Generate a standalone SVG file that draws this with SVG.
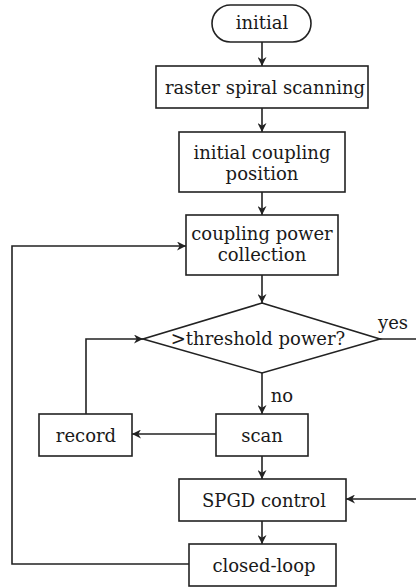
<svg xmlns="http://www.w3.org/2000/svg" width="416" height="587" viewBox="0 0 416 587">
<style>
.box{fill:#fff;stroke:#222;stroke-width:1.6}
.t{font-family:"DejaVu Serif","Liberation Serif",serif;font-size:18px;fill:#1a1a1a;text-anchor:middle}
.c{fill:none;stroke:#222;stroke-width:1.6}
</style>
<defs>
<marker id="ah" viewBox="0 0 10 10" refX="10" refY="5" markerWidth="9" markerHeight="9" markerUnits="userSpaceOnUse" orient="auto">
<path d="M0,0 L10,5 L0,10 L3,5 z" fill="#222"/>
</marker>
</defs>
<rect width="416" height="587" fill="#fff"/>
<g id="connectors">
<line class="c" x1="262" y1="42" x2="262" y2="66" marker-end="url(#ah)"/>
<line class="c" x1="262" y1="108" x2="262" y2="132" marker-end="url(#ah)"/>
<line class="c" x1="262" y1="192" x2="262" y2="215" marker-end="url(#ah)"/>
<line class="c" x1="262" y1="275" x2="262" y2="303" marker-end="url(#ah)"/>
<line class="c" x1="262" y1="373" x2="262" y2="414" marker-end="url(#ah)"/>
<line class="c" x1="216" y1="434" x2="132" y2="434" marker-end="url(#ah)"/>
<polyline class="c" points="86,414 86,339 143,339" marker-end="url(#ah)"/>
<line class="c" x1="262" y1="456" x2="262" y2="479" marker-end="url(#ah)"/>
<line class="c" x1="262" y1="521" x2="262" y2="544" marker-end="url(#ah)"/>
<polyline class="c" points="189,564 12,564 12,246 186,246" marker-end="url(#ah)"/>
<polyline class="c" points="380,339 420,339 420,499 346,499" marker-end="url(#ah)"/>
<text class="t" x="282" y="402">no</text>
<text class="t" x="393" y="329">yes</text>
</g>
<g id="initial">
<rect class="box" x="212" y="5" width="99" height="37" rx="18.5"/>
<text class="t" x="262" y="29">initial</text>
</g>
<g id="raster">
<rect class="box" x="156" y="66" width="212" height="42"/>
<text class="t" x="265" y="94">raster spiral scanning</text>
</g>
<g id="initpos">
<rect class="box" x="179" y="132" width="166" height="60"/>
<text class="t" x="262" y="159">initial coupling</text>
<text class="t" x="262" y="180">position</text>
</g>
<g id="collection">
<rect class="box" x="186" y="215" width="152" height="60"/>
<text class="t" x="262" y="240">coupling power</text>
<text class="t" x="262" y="261">collection</text>
</g>
<g id="threshold">
<polygon class="box" points="262,303 380,339 262,373 143,339"/>
<text class="t" x="258" y="345">&gt;threshold power?</text>
</g>
<g id="record">
<rect class="box" x="39" y="414" width="93" height="42"/>
<text class="t" x="86" y="442">record</text>
</g>
<g id="scan">
<rect class="box" x="216" y="414" width="92" height="42"/>
<text class="t" x="262" y="442">scan</text>
</g>
<g id="spgd">
<rect class="box" x="179" y="479" width="167" height="42"/>
<text class="t" x="264" y="507">SPGD control</text>
</g>
<g id="closedloop">
<rect class="box" x="189" y="544" width="147" height="42"/>
<text class="t" x="264" y="572">closed-loop</text>
</g>
</svg>
